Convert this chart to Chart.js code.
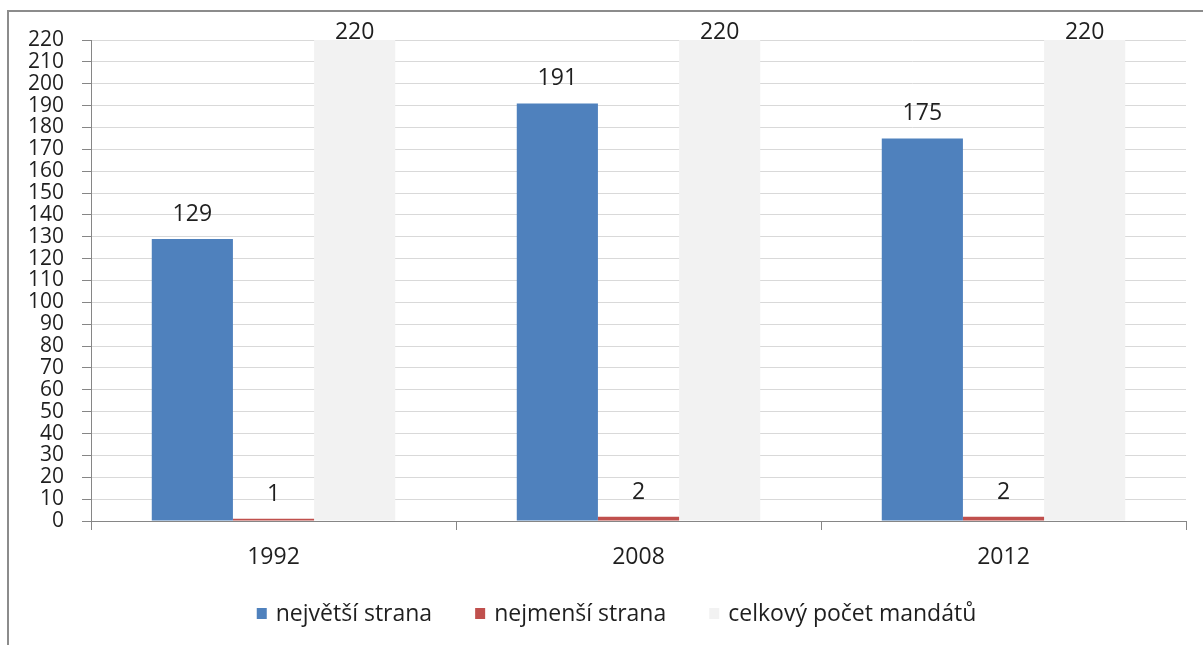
<!DOCTYPE html>
<html lang="cs">
<head>
<meta charset="utf-8">
<title>Počet mandátů</title>
<script src="https://cdn.jsdelivr.net/npm/chart.js@4/dist/chart.umd.min.js"></script>
<style>
  html, body { margin: 0; padding: 0; background: #ffffff; }
  #wrap { position: relative; width: 1203px; height: 645px; overflow: hidden; }
  canvas { display: block; }
</style>
</head>
<body>
<div id="wrap"><canvas id="chart" width="1203" height="645"></canvas></div>
<script>
// Volební roky
const years = ['1992', '2008', '2012'];

// Počty mandátů
const nejvetsi = [129, 191, 175];
const nejmensi = [1, 2, 2];
const celkem = [220, 220, 220];

// Názvy řad
const seriesNames = ['největší strana', 'nejmenší strana', 'celkový počet mandátů'];

// Rozsah osy Y
const yMin = 0;
const yMax = 220;
const yStep = 10;

const FONT = '"Open Sans", "Liberation Sans", sans-serif';
const TEXT = '#1f1f1f';
const AXIS = '#868686';

// Rámeček grafu (pokračuje za okraj plátna)
const framePlugin = {
  id: 'frame',
  beforeDraw(chart) {
    const ctx = chart.ctx;
    ctx.save();
    ctx.fillStyle = '#ffffff';
    ctx.fillRect(0, 0, chart.width, chart.height);
    ctx.strokeStyle = '#8c8c8c';
    ctx.lineWidth = 2;
    ctx.strokeRect(8, 11, 1217, 700);
    ctx.restore();
  }
};

// Hodnoty nad sloupci
const valueLabels = {
  id: 'valueLabels',
  afterDatasetsDraw(chart) {
    const ctx = chart.ctx;
    const top = chart.chartArea.top;
    ctx.save();
    ctx.font = '23px ' + FONT;
    ctx.fillStyle = TEXT;
    ctx.textAlign = 'center';
    ctx.textBaseline = 'alphabetic';
    chart.data.datasets.forEach((ds, i) => {
      const meta = chart.getDatasetMeta(i);
      meta.data.forEach((bar, j) => {
        const y = Math.max(bar.y - 18, top - 1);
        ctx.fillText(String(ds.data[j]), bar.x, y);
      });
    });
    ctx.restore();
  }
};

// Legenda pod grafem
const legendPlugin = {
  id: 'bottomLegend',
  afterDraw(chart) {
    const ctx = chart.ctx;
    ctx.save();
    ctx.font = '23px ' + FONT;
    ctx.textBaseline = 'middle';
    const box = 10, boxGap = 9, itemGap = 43;
    const items = chart.data.datasets.map(ds => ({
      text: ds.label, color: ds.backgroundColor, w: ctx.measureText(ds.label).width
    }));
    const total = items.reduce((s, it) => s + box + boxGap + it.w, 0) + itemGap * (items.length - 1);
    const centre = (8 + 1225) / 2;
    let x = centre - total / 2;
    const y = 614;
    items.forEach(it => {
      ctx.fillStyle = it.color;
      ctx.fillRect(x, y - box / 2 - 1, box, box + 1);
      x += box + boxGap;
      ctx.fillStyle = TEXT;
      ctx.fillText(it.text, x, y);
      x += it.w + itemGap;
    });
    ctx.restore();
  }
};

new Chart(document.getElementById('chart'), {
  type: 'bar',
  data: {
    labels: years,
    datasets: [
      { label: seriesNames[0], data: nejvetsi, backgroundColor: '#4f81bd' },
      { label: seriesNames[1], data: nejmensi, backgroundColor: '#c0504d' },
      { label: seriesNames[2], data: celkem, backgroundColor: '#f2f2f2' }
    ]
  },
  options: {
    responsive: false,
    animation: false,
    layout: { padding: { left: 0, top: 40, right: 17, bottom: 0 } },
    datasets: { bar: { categoryPercentage: 0.667, barPercentage: 1.0, borderWidth: 0 } },
    plugins: {
      legend: { display: false },
      title: { display: false },
      tooltip: { enabled: false }
    },
    scales: {
      x: {
        afterFit(scale) { scale.height = 124; },
        grid: {
          offset: true,
          drawOnChartArea: false,
          drawTicks: true,
          tickLength: 9,
          tickColor: AXIS,
          tickWidth: 1
        },
        border: { color: AXIS, width: 1 },
        ticks: { font: { family: FONT, size: 23 }, color: TEXT, padding: 14 }
      },
      y: {
        min: yMin,
        max: yMax,
        afterFit(scale) { scale.width = 91; },
        grid: {
          color: '#d9d9d9',
          lineWidth: 1,
          drawTicks: true,
          tickLength: 9,
          tickColor: AXIS
        },
        border: { color: AXIS, width: 1 },
        ticks: {
          stepSize: yStep,
          autoSkip: false,
          font: { family: FONT, size: 21 },
          color: TEXT,
          padding: 18
        }
      }
    }
  },
  plugins: [framePlugin, valueLabels, legendPlugin]
});
</script>
</body>
</html>
